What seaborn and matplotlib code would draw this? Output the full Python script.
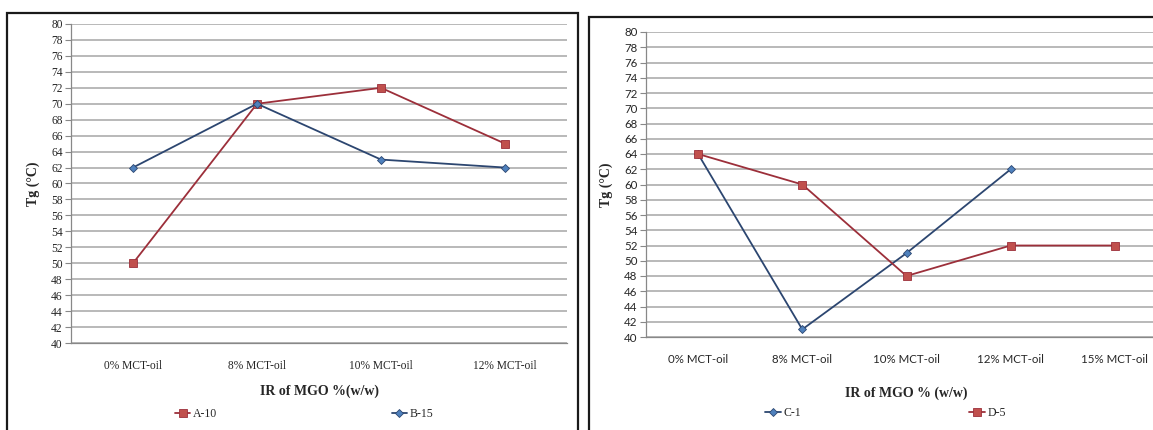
import numpy as np
import matplotlib
matplotlib.use("Agg")
import matplotlib.pyplot as plt
from matplotlib.patches import Rectangle
from matplotlib.ticker import FixedLocator, MultipleLocator
import seaborn as sns

# data
cats_left = ["0% MCT-oil", "8% MCT-oil", "10% MCT-oil", "12% MCT-oil"]
a10 = [50, 70, 72, 65]
b15 = [62, 70, 63, 62]

cats_right = ["0% MCT-oil", "8% MCT-oil", "10% MCT-oil", "12% MCT-oil", "15% MCT-oil"]
c1 = [64, 41, 51, 62]
d5 = [64, 60, 48, 52, 52]

yticks = list(range(40, 82, 2))

RED_LINE, RED_MK = "#9c2f3a", "#c0504d"
BLUE_LINE, BLUE_MK = "#2c4670", "#4f81bd"

sns.set_style("white")
plt.rcParams["font.family"] = ["Liberation Serif", "DejaVu Sans"]

W, H = 1153, 430
fig = plt.figure(figsize=(W / 100, H / 100), dpi=100)


def px_axes(x0, y0, x1, y1):
    return fig.add_axes([x0 / W, 1 - y1 / H, (x1 - x0) / W, (y1 - y0) / H])


def style_axes(ax, cats, tick_font, xmax):
    ax.set_ylim(40, 80)
    ax.set_xlim(-0.5, xmax)
    ax.yaxis.set_major_locator(FixedLocator(yticks))
    ax.yaxis.grid(True, color="#a6a6a6", linewidth=1.1)
    ax.xaxis.grid(False)
    ax.set_axisbelow(True)
    ax.set_xticks(np.arange(len(cats)))
    ax.set_xticklabels(cats, fontsize=8.3, family=tick_font)
    ax.xaxis.set_minor_locator(MultipleLocator(1, offset=0.5))
    ax.tick_params(axis="x", which="major", length=0, pad=12)
    ax.tick_params(axis="x", which="minor", length=4, color="#888888", width=0.8)
    ax.tick_params(axis="y", length=4, color="#888888", width=0.8, pad=2, left=True)
    for lab in ax.get_yticklabels():
        lab.set_fontsize(8.3)
        lab.set_family(tick_font)
    for s in ["top", "right"]:
        ax.spines[s].set_visible(False)
    for s in ["left", "bottom"]:
        ax.spines[s].set_color("#888888")
        ax.spines[s].set_linewidth(0.9)
    ax.set_ylabel("Tg (°C)", fontsize=10, fontweight="bold", labelpad=8)


def draw(ax, vals, label, line_c, mk_c, marker, ms):
    sns.lineplot(x=np.arange(len(vals)), y=vals, ax=ax, color=line_c, linewidth=1.3,
                 marker=marker, markersize=ms, markerfacecolor=mk_c,
                 markeredgecolor=line_c, markeredgewidth=0.6, label=label, legend=False)


# left panel
axL = px_axes(71, 24, 567, 343)
draw(axL, a10, "A-10", RED_LINE, RED_MK, "s", 5.5)
draw(axL, b15, "B-15", BLUE_LINE, BLUE_MK, "D", 4)
style_axes(axL, cats_left, ["Liberation Serif"], 3.5)
axL.set_xlabel("IR of MGO %(w/w)", fontsize=10, fontweight="bold", labelpad=9)
axL.legend(loc="upper left", bbox_to_anchor=(0.2, -0.19), ncol=2, frameon=False,
           fontsize=8.5, handlelength=1.3, handletextpad=0.2, columnspacing=14.8,
           borderaxespad=0)

# right panel (plot area runs off the right edge of the image)
axR = px_axes(646, 32, 1167, 337)
draw(axR, c1, "C-1", BLUE_LINE, BLUE_MK, "D", 4)
draw(axR, d5, "D-5", RED_LINE, RED_MK, "s", 5.5)
style_axes(axR, cats_right, ["Lato", "DejaVu Sans"], 4.5)
axR.set_xlabel("IR of MGO % (w/w)", fontsize=10, fontweight="bold", labelpad=16)
axR.legend(loc="upper left", bbox_to_anchor=(0.22, -0.215), ncol=2, frameon=False,
           fontsize=8.5, handlelength=1.3, handletextpad=0.2, columnspacing=14.3,
           borderaxespad=0)

# panel frames
fig.patches.append(Rectangle((7 / W, -0.1), (578 - 7) / W, 1.1 - 13 / H,
                             transform=fig.transFigure, fill=False,
                             edgecolor="#1a1a1a", linewidth=1.6))
fig.patches.append(Rectangle((589 / W, -0.1), 0.6, 1.1 - 17 / H,
                             transform=fig.transFigure, fill=False,
                             edgecolor="#1a1a1a", linewidth=1.6))

fig.savefig("out.png", dpi=100)
